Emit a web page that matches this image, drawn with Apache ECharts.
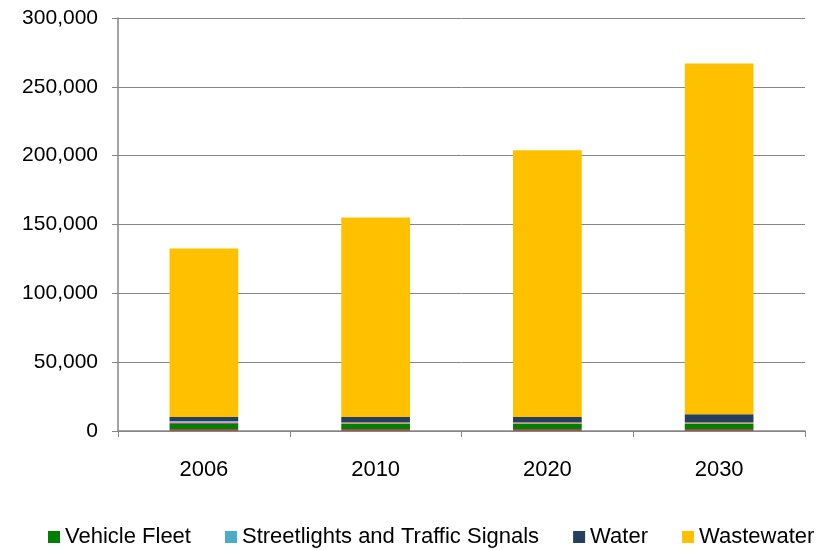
<!DOCTYPE html>
<html>
<head>
<meta charset="utf-8">
<script src="https://cdn.jsdelivr.net/npm/echarts@6/dist/echarts.min.js"></script>
<style>
html,body{margin:0;padding:0;background:#fff;}
#chart{width:822px;height:550px;}
</style>
</head>
<body>
<div id="chart"></div>
<script>
const categories = ['2006', '2010', '2020', '2030'];
const otherBuildings = [1500, 1500, 1500, 1500];
const vehicleFleet = [3600, 3600, 3600, 3600];
const otherPurple = [1000, 0, 0, 0];
const otherOrange = [700, 700, 700, 700];
const streetlights = [500, 500, 500, 500];
const water = [2800, 3900, 3900, 5800];
const wastewater = [122400, 144800, 193800, 254900];
const yTicks = [0, 50000, 100000, 150000, 200000, 250000, 300000];

const fontFam = "'Liberation Sans', Arial, sans-serif";
function mk(name, data, color) {
  return { name: name, type: 'bar', stack: 'total', data: data, barWidth: '40%',
    itemStyle: { color: color }, emphasis: { disabled: true } };
}
const chart = echarts.init(document.getElementById('chart'));
chart.setOption({
  animation: false,
  backgroundColor: '#ffffff',
  grid: { left: 118, right: 17, top: 18, bottom: 119, containLabel: false },
  legend: {
    data: ['Vehicle Fleet', 'Streetlights and Traffic Signals', 'Water', 'Wastewater'],
    top: 526, left: 48, width: 774, padding: 0, itemWidth: 12, itemHeight: 12, itemGap: 34,
    icon: 'rect',
    textStyle: { fontFamily: fontFam, fontSize: 22, color: '#000' }
  },
  xAxis: {
    type: 'category', data: categories,
    axisLine: { lineStyle: { color: '#868686', width: 1.5 } },
    axisTick: { show: true, length: 6, lineStyle: { color: '#868686' } },
    axisLabel: { fontFamily: fontFam, fontSize: 22, color: '#000', margin: 28 }
  },
  yAxis: {
    type: 'value', min: 0, max: yTicks[yTicks.length - 1], interval: 50000,
    axisLine: { show: true, lineStyle: { color: '#868686', width: 1.5 } },
    axisTick: { show: true, length: 6, lineStyle: { color: '#868686' } },
    splitLine: { lineStyle: { color: '#868686', width: 1 } },
    axisLabel: { fontFamily: fontFam, fontSize: 21, color: '#000', margin: 20,
      formatter: v => v.toLocaleString('en-US') }
  },
  series: [
    mk('Other', otherBuildings, '#A0504D'),
    mk('Vehicle Fleet', vehicleFleet, '#008000'),
    mk('Other 2', otherPurple, '#8064A2'),
    mk('Other 3', otherOrange, '#F79646'),
    mk('Streetlights and Traffic Signals', streetlights, '#4BACC6'),
    mk('Water', water, '#243F60'),
    mk('Wastewater', wastewater, '#FFC000')
  ]
});
</script>
</body>
</html>
